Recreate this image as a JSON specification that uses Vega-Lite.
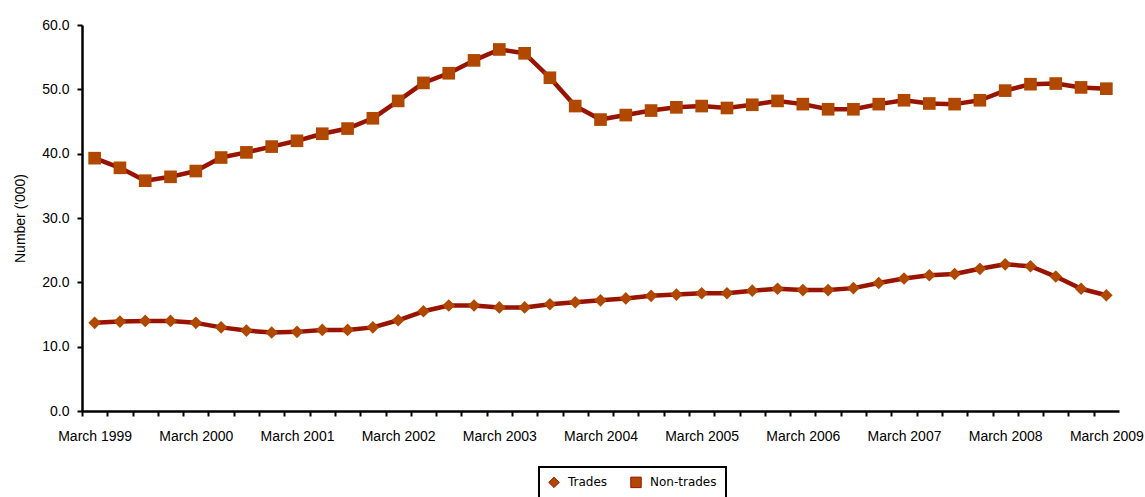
{
  "$schema": "https://vega.github.io/schema/vega-lite/v6.json",
  "width": 1037,
  "height": 386,
  "autosize": "none",
  "padding": {"left": 82, "top": 25, "right": 26, "bottom": 86},
  "background": "white",
  "config": {
    "view": {"stroke": null},
    "font": "Liberation Sans",
    "axis": {
      "labelFont": "Liberation Sans",
      "labelFontSize": 14,
      "labelColor": "#000000",
      "domainColor": "#000000",
      "domainWidth": 2.5,
      "tickColor": "#000000",
      "tickWidth": 2,
      "tickSize": 5,
      "grid": false
    }
  },
  "data": {
    "values": [
      {"quarter": "March 1999", "series": "Trades", "value": 13.7},
      {"quarter": "June 1999", "series": "Trades", "value": 13.9},
      {"quarter": "September 1999", "series": "Trades", "value": 14.0},
      {"quarter": "December 1999", "series": "Trades", "value": 14.0},
      {"quarter": "March 2000", "series": "Trades", "value": 13.7},
      {"quarter": "June 2000", "series": "Trades", "value": 13.0},
      {"quarter": "September 2000", "series": "Trades", "value": 12.5},
      {"quarter": "December 2000", "series": "Trades", "value": 12.2},
      {"quarter": "March 2001", "series": "Trades", "value": 12.3},
      {"quarter": "June 2001", "series": "Trades", "value": 12.6},
      {"quarter": "September 2001", "series": "Trades", "value": 12.6},
      {"quarter": "December 2001", "series": "Trades", "value": 13.0},
      {"quarter": "March 2002", "series": "Trades", "value": 14.1},
      {"quarter": "June 2002", "series": "Trades", "value": 15.5},
      {"quarter": "September 2002", "series": "Trades", "value": 16.4},
      {"quarter": "December 2002", "series": "Trades", "value": 16.4},
      {"quarter": "March 2003", "series": "Trades", "value": 16.1},
      {"quarter": "June 2003", "series": "Trades", "value": 16.1},
      {"quarter": "September 2003", "series": "Trades", "value": 16.6},
      {"quarter": "December 2003", "series": "Trades", "value": 16.9},
      {"quarter": "March 2004", "series": "Trades", "value": 17.2},
      {"quarter": "June 2004", "series": "Trades", "value": 17.5},
      {"quarter": "September 2004", "series": "Trades", "value": 17.9},
      {"quarter": "December 2004", "series": "Trades", "value": 18.1},
      {"quarter": "March 2005", "series": "Trades", "value": 18.3},
      {"quarter": "June 2005", "series": "Trades", "value": 18.3},
      {"quarter": "September 2005", "series": "Trades", "value": 18.7},
      {"quarter": "December 2005", "series": "Trades", "value": 19.0},
      {"quarter": "March 2006", "series": "Trades", "value": 18.8},
      {"quarter": "June 2006", "series": "Trades", "value": 18.8},
      {"quarter": "September 2006", "series": "Trades", "value": 19.1},
      {"quarter": "December 2006", "series": "Trades", "value": 19.9},
      {"quarter": "March 2007", "series": "Trades", "value": 20.6},
      {"quarter": "June 2007", "series": "Trades", "value": 21.1},
      {"quarter": "September 2007", "series": "Trades", "value": 21.3},
      {"quarter": "December 2007", "series": "Trades", "value": 22.1},
      {"quarter": "March 2008", "series": "Trades", "value": 22.8},
      {"quarter": "June 2008", "series": "Trades", "value": 22.5},
      {"quarter": "September 2008", "series": "Trades", "value": 20.9},
      {"quarter": "December 2008", "series": "Trades", "value": 19.0},
      {"quarter": "March 2009", "series": "Trades", "value": 18.0},
      {"quarter": "March 1999", "series": "Non-trades", "value": 39.3},
      {"quarter": "June 1999", "series": "Non-trades", "value": 37.8},
      {"quarter": "September 1999", "series": "Non-trades", "value": 35.8},
      {"quarter": "December 1999", "series": "Non-trades", "value": 36.4},
      {"quarter": "March 2000", "series": "Non-trades", "value": 37.3},
      {"quarter": "June 2000", "series": "Non-trades", "value": 39.4},
      {"quarter": "September 2000", "series": "Non-trades", "value": 40.2},
      {"quarter": "December 2000", "series": "Non-trades", "value": 41.1},
      {"quarter": "March 2001", "series": "Non-trades", "value": 42.0},
      {"quarter": "June 2001", "series": "Non-trades", "value": 43.1},
      {"quarter": "September 2001", "series": "Non-trades", "value": 43.9},
      {"quarter": "December 2001", "series": "Non-trades", "value": 45.5},
      {"quarter": "March 2002", "series": "Non-trades", "value": 48.2},
      {"quarter": "June 2002", "series": "Non-trades", "value": 51.0},
      {"quarter": "September 2002", "series": "Non-trades", "value": 52.5},
      {"quarter": "December 2002", "series": "Non-trades", "value": 54.5},
      {"quarter": "March 2003", "series": "Non-trades", "value": 56.2},
      {"quarter": "June 2003", "series": "Non-trades", "value": 55.6},
      {"quarter": "September 2003", "series": "Non-trades", "value": 51.8},
      {"quarter": "December 2003", "series": "Non-trades", "value": 47.4},
      {"quarter": "March 2004", "series": "Non-trades", "value": 45.3},
      {"quarter": "June 2004", "series": "Non-trades", "value": 46.0},
      {"quarter": "September 2004", "series": "Non-trades", "value": 46.7},
      {"quarter": "December 2004", "series": "Non-trades", "value": 47.2},
      {"quarter": "March 2005", "series": "Non-trades", "value": 47.4},
      {"quarter": "June 2005", "series": "Non-trades", "value": 47.1},
      {"quarter": "September 2005", "series": "Non-trades", "value": 47.6},
      {"quarter": "December 2005", "series": "Non-trades", "value": 48.2},
      {"quarter": "March 2006", "series": "Non-trades", "value": 47.7},
      {"quarter": "June 2006", "series": "Non-trades", "value": 46.9},
      {"quarter": "September 2006", "series": "Non-trades", "value": 46.9},
      {"quarter": "December 2006", "series": "Non-trades", "value": 47.7},
      {"quarter": "March 2007", "series": "Non-trades", "value": 48.3},
      {"quarter": "June 2007", "series": "Non-trades", "value": 47.8},
      {"quarter": "September 2007", "series": "Non-trades", "value": 47.7},
      {"quarter": "December 2007", "series": "Non-trades", "value": 48.3},
      {"quarter": "March 2008", "series": "Non-trades", "value": 49.8},
      {"quarter": "June 2008", "series": "Non-trades", "value": 50.8},
      {"quarter": "September 2008", "series": "Non-trades", "value": 50.9},
      {"quarter": "December 2008", "series": "Non-trades", "value": 50.3},
      {"quarter": "March 2009", "series": "Non-trades", "value": 50.1}
    ]
  },
  "encoding": {
    "x": {
      "field": "quarter",
      "type": "ordinal",
      "sort": null,
      "axis": {
        "title": null,
        "labelAngle": 0,
        "labelPadding": 13,
        "labelOverlap": false,
        "tickOffset": -12.65,
        "labelOffset": 12.65,
        "labelExpr": "indexof(datum.value, 'March') === 0 ? datum.value : ''"
      }
    },
    "y": {
      "field": "value",
      "type": "quantitative",
      "scale": {"domain": [0, 60], "nice": false, "zero": true},
      "axis": {
        "title": "Number ('000)",
        "titleFont": "Liberation Sans",
        "titleFontSize": 14,
        "titleFontWeight": "normal",
        "titleColor": "#000000",
        "titlePadding": 14,
        "values": [0, 10, 20, 30, 40, 50, 60],
        "format": ".1f",
        "labelPadding": 8
      }
    }
  },
  "layer": [
    {
      "mark": {"type": "line", "strokeWidth": 4.5, "strokeJoin": "round", "strokeCap": "round"},
      "encoding": {
        "color": {
          "field": "series",
          "type": "nominal",
          "scale": {"domain": ["Trades", "Non-trades"], "range": ["#981300", "#981300"]},
          "legend": {
            "title": null,
            "orient": "none",
            "legendX": 457,
            "legendY": 442,
            "direction": "horizontal",
            "strokeColor": "#000000",
            "padding": 9,
            "columnPadding": 20,
            "labelOffset": 8,
            "labelFont": "DejaVu Sans",
            "labelFontSize": 12,
            "labelColor": "#000000",
            "symbolSize": 110,
            "encode": {
              "legend": {
                "update": {
                  "strokeWidth": {"value": 2}
                }
              },
              "symbols": {
                "update": {
                  "shape": {"signal": "datum.value === 'Trades' ? 'diamond' : 'square'"},
                  "fill": {"value": "#b04800"},
                  "stroke": {"value": "#981300"},
                  "strokeWidth": {"value": 1},
                  "opacity": {"value": 1}
                }
              }
            }
          }
        }
      }
    },
    {
      "mark": {"type": "point", "filled": true, "size": 160, "opacity": 1, "color": "#b04800"},
      "encoding": {
        "shape": {
          "field": "series",
          "type": "nominal",
          "scale": {"domain": ["Trades", "Non-trades"], "range": ["diamond", "square"]},
          "legend": null
        }
      }
    }
  ]
}
